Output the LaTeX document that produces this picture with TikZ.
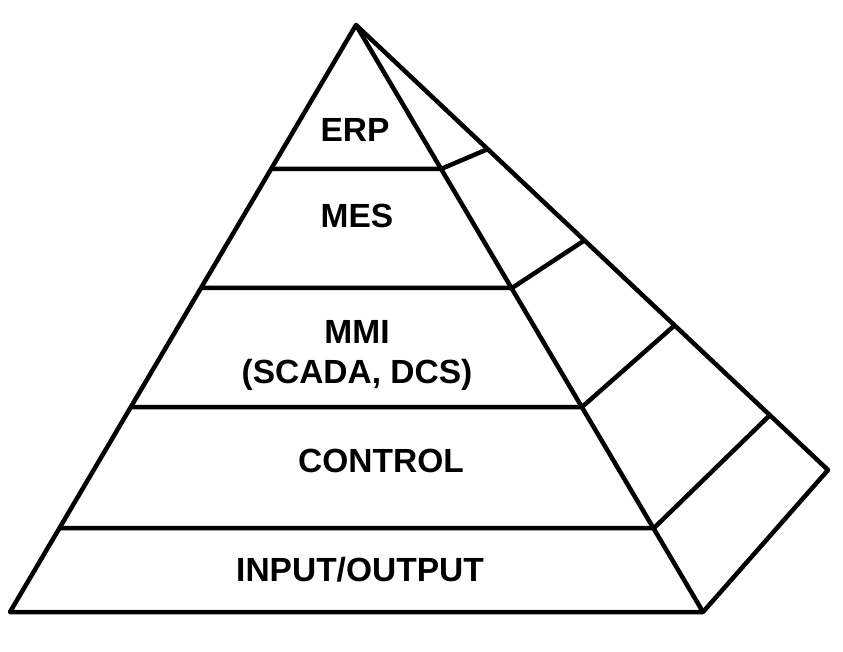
\documentclass[tikz,border=0pt]{standalone}
\usepackage{fontspec}
\setmainfont{Liberation Sans}
\usetikzlibrary{positioning}

\begin{document}
\begin{tikzpicture}[x=1pt,y=-1pt,line width=4.5pt,line join=round,
    layer/.style={font=\fontsize{33.5}{40}\selectfont\bfseries,inner sep=0pt,align=center}]
    \useasboundingbox (0,0) rectangle (843,652);
    % corners
    \coordinate (top)  at (356,25);
    \coordinate (bl)   at (10,612);
    \coordinate (br)   at (703,612);
    \coordinate (back) at (828,470);
    % level lines on the front face
    \coordinate (erpL) at (271,169);  \coordinate (erpR) at (441,169);
    \coordinate (mesL) at (201,288);  \coordinate (mesR) at (512,288);
    \coordinate (mmiL) at (131,407);  \coordinate (mmiR) at (582,407);
    \coordinate (ctlL) at (60,528);   \coordinate (ctlR) at (654,528);
    % level lines on the side face
    \coordinate (erpS) at (488,149);
    \coordinate (mesS) at (585,240);
    \coordinate (mmiS) at (675,325);
    \coordinate (ctlS) at (770,415);

    \draw (top) -- (bl) -- (br) -- cycle;
    \draw (top) -- (back) -- (br);
    \draw (erpL) -- (erpR) -- (erpS);
    \draw (mesL) -- (mesR) -- (mesS);
    \draw (mmiL) -- (mmiR) -- (mmiS);
    \draw (ctlL) -- (ctlR) -- (ctlS);

    \node[layer] (erp) at (355,130) {ERP};
    \node[layer] (mes) at (357,216) {MES};
    \node[layer] (mmi) at (357,355) {MMI\\(SCADA, DCS)};
    \node[layer] (ctl) at (381,461) {CONTROL};
    \node[layer] (io)  at (360,570) {INPUT/OUTPUT};
\end{tikzpicture}
\end{document}
